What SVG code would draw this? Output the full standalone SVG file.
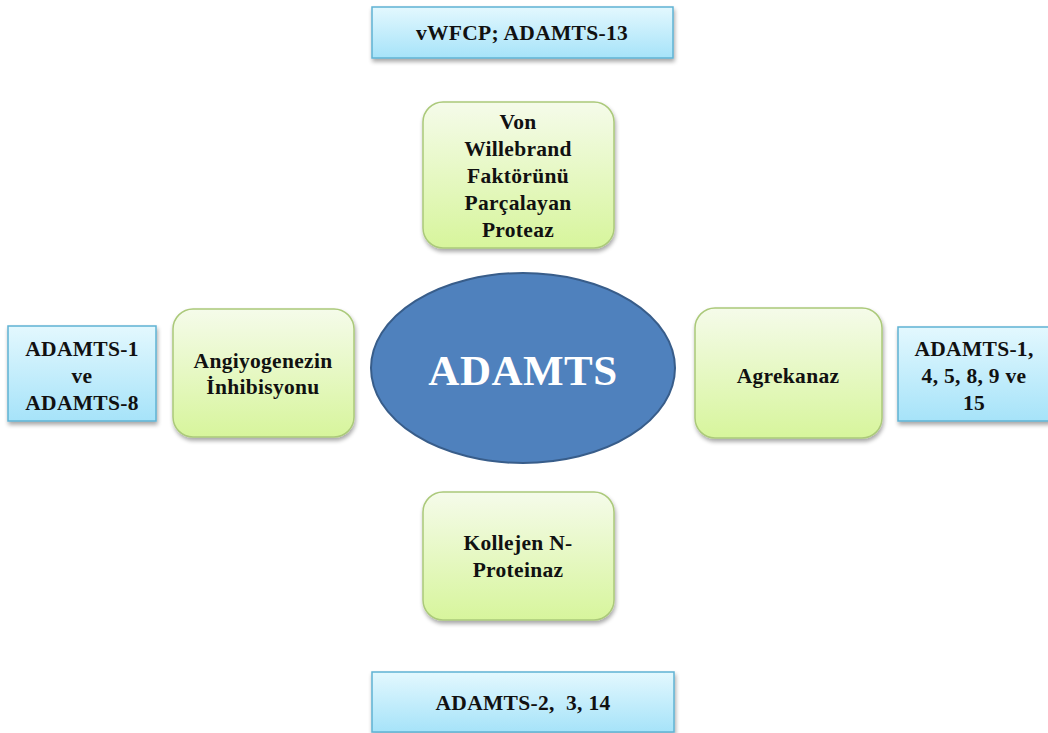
<svg xmlns="http://www.w3.org/2000/svg" width="1048" height="733" viewBox="0 0 1048 733">
<defs>
<linearGradient id="gBlue" x1="0" y1="0" x2="0" y2="1">
<stop offset="0" stop-color="#e3f8fe"/>
<stop offset="1" stop-color="#a6e3f9"/>
</linearGradient>
<linearGradient id="gGreen" x1="0" y1="0" x2="0" y2="1">
<stop offset="0" stop-color="#f5fbea"/>
<stop offset="1" stop-color="#d7f59c"/>
</linearGradient>
<filter id="sh" x="-10%" y="-10%" width="130%" height="130%">
<feGaussianBlur in="SourceAlpha" stdDeviation="2"/>
<feOffset dx="1" dy="3" result="b"/>
<feComponentTransfer><feFuncA type="linear" slope="0.35"/></feComponentTransfer>
<feMerge><feMergeNode/><feMergeNode in="SourceGraphic"/></feMerge>
</filter>
</defs>
<style>
.blue{fill:url(#gBlue);stroke:#5fb3d3;stroke-width:1.5;filter:url(#sh)}
.green{fill:url(#gGreen);stroke:#abc97a;stroke-width:1.5;filter:url(#sh)}
.t{font-family:"Liberation Serif","Times New Roman",serif;font-weight:bold;font-size:21.5px;letter-spacing:0.3px;fill:#111;text-anchor:middle}
.big{font-family:"Liberation Serif","Times New Roman",serif;font-weight:bold;font-size:43px;letter-spacing:0.5px;fill:#fff;text-anchor:middle}
</style>
<rect width="1048" height="733" fill="#fff"/>
<g id="connectors"/>
<g id="top-label">
<rect class="blue" x="372" y="7" width="301" height="51"/>
<text class="t" x="522" y="40">vWFCP; ADAMTS-13</text>
</g>
<g id="top-node">
<rect class="green" x="423" y="102" width="191" height="146" rx="20"/>
<text class="t" x="518" y="129">Von</text>
<text class="t" x="518" y="156">Willebrand</text>
<text class="t" x="518" y="183">Faktörünü</text>
<text class="t" x="518" y="210">Parçalayan</text>
<text class="t" x="518" y="237">Proteaz</text>
</g>
<g id="left-label">
<rect class="blue" x="8" y="326" width="148" height="95"/>
<text class="t" x="82" y="356">ADAMTS-1</text>
<text class="t" x="82" y="383">ve</text>
<text class="t" x="82" y="410">ADAMTS-8</text>
</g>
<g id="left-node">
<rect class="green" x="173" y="309" width="181" height="128" rx="20"/>
<text class="t" x="263" y="368">Angiyogenezin</text>
<text class="t" x="263" y="394">İnhibisyonu</text>
</g>
<g id="center">
<ellipse cx="523" cy="368" rx="152" ry="95" fill="#4f81bd" stroke="#385d8a" stroke-width="2"/>
<text class="big" x="523" y="385">ADAMTS</text>
</g>
<g id="right-node">
<rect class="green" x="695" y="308" width="187" height="130" rx="20"/>
<text class="t" x="788" y="383">Agrekanaz</text>
</g>
<g id="right-label">
<rect class="blue" x="898" y="327" width="152" height="94"/>
<text class="t" x="974" y="356">ADAMTS-1,</text>
<text class="t" x="974" y="383">4, 5, 8, 9 ve</text>
<text class="t" x="974" y="410">15</text>
</g>
<g id="bottom-node">
<rect class="green" x="423" y="492" width="191" height="128" rx="20"/>
<text class="t" x="518" y="550">Kollejen N-</text>
<text class="t" x="518" y="577">Proteinaz</text>
</g>
<g id="bottom-label">
<rect class="blue" x="372" y="672" width="302" height="60"/>
<text class="t" x="523" y="710" xml:space="preserve">ADAMTS-2,  3, 14</text>
</g>
</svg>
